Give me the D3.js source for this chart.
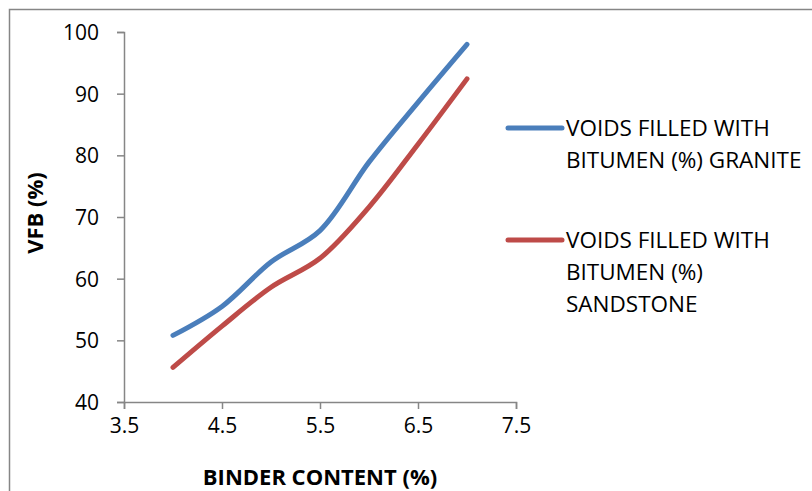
<!DOCTYPE html>
<html>
<head>
<meta charset="utf-8">
<script src="https://cdn.jsdelivr.net/npm/d3@7"></script>
<style>
  body { margin: 0; background: #fff; }
  svg { display: block; }
  text { font-family: "Open Sans", sans-serif; fill: #000; }
</style>
</head>
<body>
<svg id="chart" width="812" height="491"></svg>
<script>
// binder content (%)
const binder = [4, 4.5, 5, 5.5, 6, 6.5, 7];
// voids filled with bitumen (%)
const vfbGranite = [50.8, 55.5, 62.7, 67.8, 78.9, 88.6, 98.0];
const vfbSandstone = [45.6, 52.3, 58.6, 63.3, 71.6, 81.8, 92.4];
const xTicks = [3.5, 4.5, 5.5, 6.5, 7.5];
const yTicks = [40, 50, 60, 70, 80, 90, 100];
const seriesNames = [
  ['VOIDS FILLED WITH', 'BITUMEN (%) GRANITE'],
  ['VOIDS FILLED WITH', 'BITUMEN (%)', 'SANDSTONE']
];
const colors = ['#4a7ebb', '#be4b48'];

const svg = d3.select('#chart');
const margin = {top: 32, left: 124};
const plotW = 392, plotH = 370;

// outer chart border (runs off the right / bottom edge)
svg.append('rect')
  .attr('x', 9.5).attr('y', 9.5)
  .attr('width', 900).attr('height', 600)
  .attr('fill', 'none')
  .attr('stroke', '#868686')
  .attr('stroke-width', 1.5);

const g = svg.append('g')
  .attr('transform', `translate(${margin.left},${margin.top})`);

const x = d3.scaleLinear().domain([3.5, 7.5]).range([0, plotW]);
const y = d3.scaleLinear().domain([40, 100]).range([plotH, 0]);

const xAxis = g.append('g')
  .attr('transform', `translate(0,${plotH})`)
  .call(d3.axisBottom(x).tickValues(xTicks).tickFormat(d3.format('.1f')).tickSize(7).tickPadding(9));

const yAxis = g.append('g')
  .call(d3.axisLeft(y).tickValues(yTicks).tickSize(7).tickPadding(18));

g.selectAll('.domain, .tick line')
  .attr('stroke', '#868686')
  .attr('stroke-width', 1.5);
g.selectAll('.tick text')
  .style('font-family', '"Open Sans", sans-serif')
  .style('font-size', '21px')
  .attr('fill', '#000');
yAxis.selectAll('.tick text').attr('dy', '0.36em');

// series lines
const line = d3.line()
  .x((d, i) => x(binder[i]))
  .y(d => y(d))
  .curve(d3.curveCatmullRom.alpha(0.5));

[vfbGranite, vfbSandstone].forEach((vals, k) => {
  g.append('path')
    .datum(vals)
    .attr('d', line)
    .attr('fill', 'none')
    .attr('stroke', colors[k])
    .attr('stroke-width', 5)
    .attr('stroke-linecap', 'round');
});

// axis titles
svg.append('text')
  .attr('x', margin.left + plotW / 2)
  .attr('y', 485)
  .attr('text-anchor', 'middle')
  .style('font-weight', 'bold')
  .style('font-size', '22px')
  .text('BINDER CONTENT (%)');

svg.append('text')
  .attr('transform', `translate(43,${margin.top + plotH / 2 - 4}) rotate(-90)`)
  .attr('text-anchor', 'middle')
  .style('font-weight', 'bold')
  .style('font-size', '22px')
  .text('VFB (%)');

// legend
const legendY = [128, 240];
seriesNames.forEach((lines, k) => {
  const lg = svg.append('g').attr('transform', `translate(508,${legendY[k]})`);
  lg.append('line')
    .attr('x1', 0).attr('x2', 54)
    .attr('y1', 0).attr('y2', 0)
    .attr('stroke', colors[k])
    .attr('stroke-width', 5)
    .attr('stroke-linecap', 'round');
  lg.selectAll('text')
    .data(lines)
    .enter().append('text')
    .attr('x', 58)
    .attr('y', (d, i) => 8 + i * 32)
    .style('font-size', '22.5px')
    .text(d => d);
});
</script>
</body>
</html>
